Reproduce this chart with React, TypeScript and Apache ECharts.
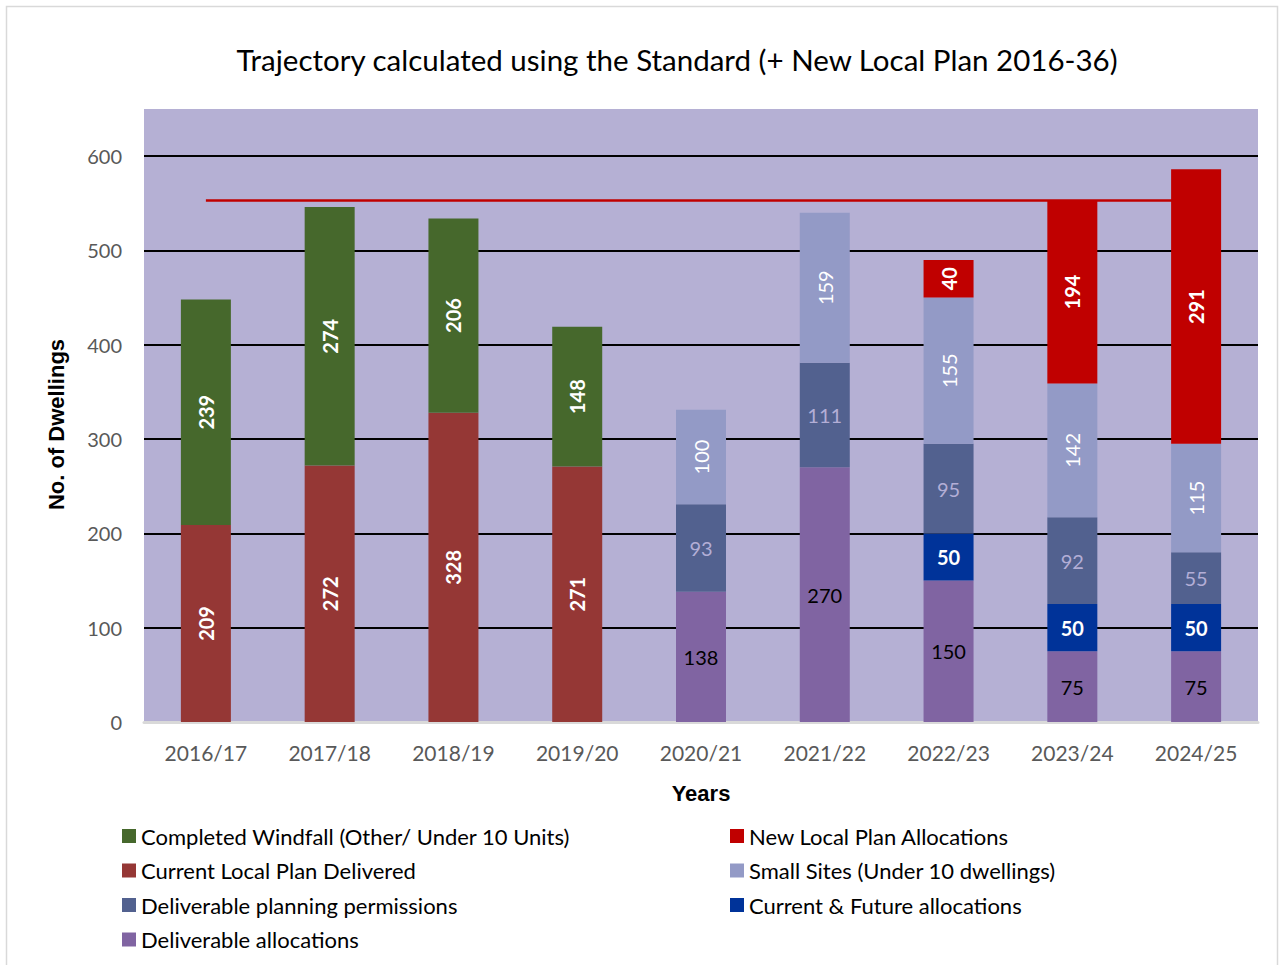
import React, { useEffect, useRef } from "react";
import * as echarts from "echarts";

const categories = ["2016/17", "2017/18", "2018/19", "2019/20", "2020/21", "2021/22", "2022/23", "2023/24", "2024/25"];
const currentLocalPlanDelivered = [209, 272, 328, 271, null, null, null, null, null];
const completedWindfall = [239, 274, 206, 148, null, null, null, null, null];
const deliverableAllocations = [null, null, null, null, 138, 270, 150, 75, 75];
const currentFutureAllocations = [null, null, null, null, null, null, 50, 50, 50];
const deliverablePermissions = [null, null, null, null, 93, 111, 95, 92, 55];
const smallSites = [null, null, null, null, 100, 159, 155, 142, 115];
const newLocalPlanAllocations = [null, null, null, null, null, null, 40, 194, 291];
const requirementLine = [553, 553, 553, 553, 553, 553, 553, 553, 553];
const yTicks = [0, 100, 200, 300, 400, 500, 600];

const FONT = "Lato";
const BOLD_FONT = "Liberation Sans";

function makeBar(name: string, data: (number | null)[], color: string, label: any) {
  return {
    name,
    type: "bar",
    stack: "total",
    barWidth: 50,
    data,
    itemStyle: { color },
    label: {
      show: true,
      position: "inside",
      fontFamily: FONT,
      fontSize: 20,
      ...label,
    },
  };
}

export default function App() {
  const ref = useRef<HTMLDivElement>(null);
  useEffect(() => {
    if (!ref.current) return;
    const chart = echarts.init(ref.current, null, { renderer: "svg" });
    const white = { color: "#FFFFFF" };
    const legendCommon = {
      top: 825,
      orient: "vertical",
      padding: 0,
      itemWidth: 14,
      itemHeight: 14,
      itemGap: 12.5,
      icon: "rect",
      textStyle: { fontFamily: FONT, fontSize: 22, color: "#000000", lineHeight: 22 },
    };
    chart.setOption({
      animation: false,
      backgroundColor: "#FFFFFF",
      textStyle: { fontFamily: FONT },
      title: {
        text: "Trajectory calculated using the Standard (+ New Local Plan 2016-36)",
        left: 672,
        top: 39,
        textAlign: "center",
        textStyle: { fontFamily: FONT, fontSize: 29.5, fontWeight: "normal", color: "#000000" },
      },
      graphic: [
        {
          type: "rect",
          z: -10,
          shape: { x: 6.5, y: 6.5, width: 1271, height: 980 },
          style: { fill: "transparent", stroke: "#D9D9D9", lineWidth: 1.5 },
        },
      ],
      grid: {
        left: 144,
        right: 21,
        top: 109,
        bottom: 243,
        show: true,
        backgroundColor: "#B5B0D4",
        borderWidth: 0,
      },
      legend: [
        {
          ...legendCommon,
          left: 122,
          data: ["Completed Windfall (Other/ Under 10 Units)", "Current Local Plan Delivered", "Deliverable planning permissions", "Deliverable allocations"],
        },
        {
          ...legendCommon,
          left: 730,
          data: ["New Local Plan Allocations", "Small Sites (Under 10 dwellings)", "Current & Future allocations"],
        },
      ],
      xAxis: {
        type: "category",
        data: categories,
        z: 1,
        name: "Years",
        nameLocation: "middle",
        nameGap: 60,
        nameTextStyle: { fontFamily: BOLD_FONT, fontSize: 22, fontWeight: "bold", color: "#000000" },
        axisLine: { show: true, lineStyle: { color: "#D9D9D9", width: 3 } },
        axisTick: { show: false },
        axisLabel: { fontFamily: FONT, fontSize: 21, color: "#595959", margin: 20 },
      },
      yAxis: {
        type: "value",
        min: 0,
        max: 650,
        interval: 100,
        name: "No. of Dwellings",
        nameLocation: "middle",
        nameGap: 77,
        nameTextStyle: { fontFamily: BOLD_FONT, fontSize: 22, fontWeight: "bold", color: "#000000", padding: [0, 18, 0, 0] },
        axisLine: { show: false },
        axisTick: { show: false },
        axisLabel: {
          fontFamily: FONT,
          fontSize: 20,
          color: "#595959",
          margin: 22,
          formatter: (v: number) => (yTicks.indexOf(v) >= 0 ? String(v) : ""),
        },
        splitLine: { show: true, showMaxLine: false, lineStyle: { color: "#000000", width: 2 } },
      },
      series: [
        makeBar("Current Local Plan Delivered", currentLocalPlanDelivered, "#953735", { ...white, fontWeight: "bold", rotate: 90 }),
        makeBar("Completed Windfall (Other/ Under 10 Units)", completedWindfall, "#46682C", { ...white, fontWeight: "bold", rotate: 90 }),
        makeBar("Deliverable allocations", deliverableAllocations, "#8064A2", { color: "#000000" }),
        makeBar("Current & Future allocations", currentFutureAllocations, "#003399", { ...white, fontWeight: "bold" }),
        makeBar("Deliverable planning permissions", deliverablePermissions, "#52618F", { color: "#B3AED6" }),
        makeBar("Small Sites (Under 10 dwellings)", smallSites, "#939AC6", { ...white, rotate: 90 }),
        makeBar("New Local Plan Allocations", newLocalPlanAllocations, "#C00000", { ...white, fontWeight: "bold", rotate: 90 }),
        {
          name: "Requirement",
          type: "line",
          data: requirementLine,
          showSymbol: false,
          symbol: "none",
          z: 3,
          lineStyle: { color: "#C00000", width: 2.5 },
          itemStyle: { color: "#C00000" },
        },
      ],
    });
    return () => chart.dispose();
  }, []);
  return (
    <div
      ref={ref}
      style={{ position: "fixed", left: 0, top: 0, width: 1279, height: 965 }}
    />
  );
}
